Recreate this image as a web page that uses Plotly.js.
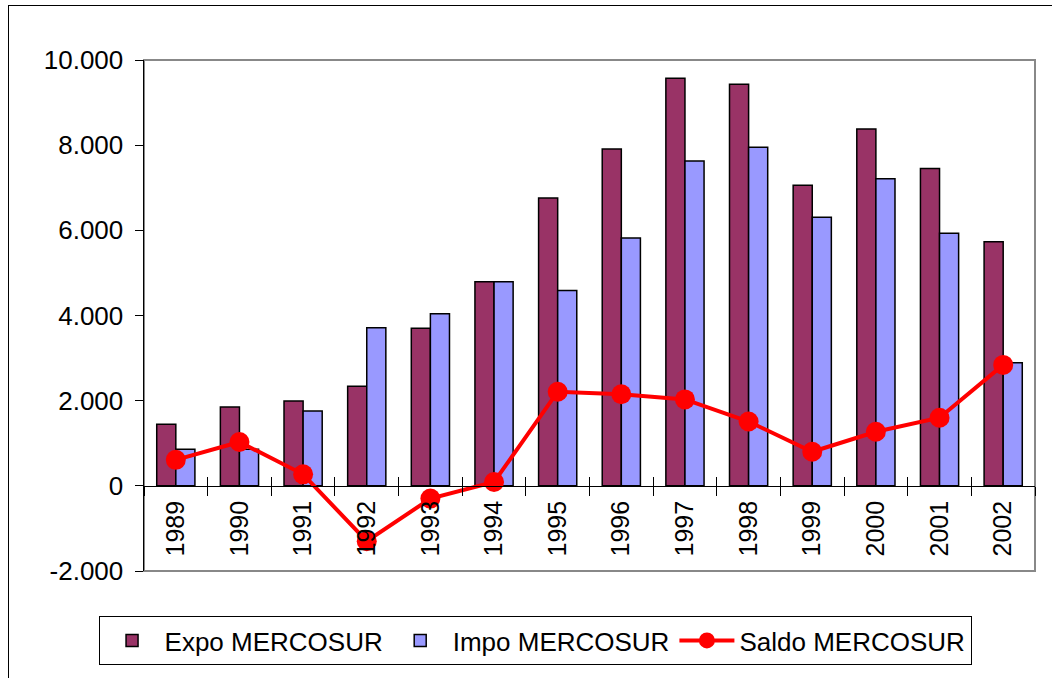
<!DOCTYPE html>
<html>
<head>
<meta charset="utf-8">
<script src="https://cdn.plot.ly/plotly-3.0.1.min.js"></script>
<style>
html,body{margin:0;padding:0;background:#fff;overflow:hidden;}
#chart{position:absolute;left:0;top:0;width:1052px;height:678px;}
#frame{position:absolute;left:8px;top:5px;width:1100px;height:720px;border:1px solid #000;pointer-events:none;}
</style>
</head>
<body>
<div id="chart"></div>
<div id="frame"></div>
<script>
const years = ['1989','1990','1991','1992','1993','1994','1995','1996','1997','1998','1999','2000','2001','2002'];
const expo  = [1445, 1850, 1990, 2340, 3700, 4790, 6760, 7910, 9570, 9430, 7060, 8380, 7450, 5730];
const impo  = [860, 860, 1760, 3710, 4040, 4790, 4590, 5820, 7630, 7950, 6310, 7210, 5930, 2890];
const saldo = [610, 1030, 270, -1300, -300, 90, 2210, 2150, 2030, 1510, 800, 1270, 1600, 2840];
const yTickVals = [-2000, 0, 2000, 4000, 6000, 8000, 10000];
const yTickText = ['-2.000', '0', '2.000', '4.000', '6.000', '8.000', '10.000'];
const seriesNames = ['Expo MERCOSUR', 'Impo MERCOSUR', 'Saldo MERCOSUR'];

const FONT = 'Arial, "Liberation Sans", sans-serif';
const yMin = -2000, yMax = 10000;
const zeroPos = (0 - yMin) / (yMax - yMin);
const catRange = [-0.5, years.length - 0.5];

const traces = [
  {type:'bar', name:seriesNames[0], x:years, y:expo, xaxis:'x', yaxis:'y',
   marker:{color:'#993366', line:{color:'#000', width:1.5}}},
  {type:'bar', name:seriesNames[1], x:years, y:impo, xaxis:'x', yaxis:'y',
   marker:{color:'#9999FF', line:{color:'#000', width:1.5}}},
  {type:'scatter', mode:'lines+markers', name:seriesNames[2], x:years, y:saldo, xaxis:'x2', yaxis:'y',
   line:{color:'#FF0000', width:4}, marker:{color:'#FF0000', size:20}, cliponaxis:false}
];

const layout = {
  width:1052, height:678,
  margin:{l:144, r:17, t:60, b:107},
  paper_bgcolor:'rgba(0,0,0,0)', plot_bgcolor:'#fff',
  font:{family:FONT, size:25, color:'#000'},
  barmode:'group', bargap:0.4, bargroupgap:0,
  showlegend:true,
  legend:{orientation:'h', xref:'container', yref:'container', x:0.5086, y:0.0553,
          xanchor:'center', yanchor:'middle', bordercolor:'#000', borderwidth:1, bgcolor:'#fff',
          font:{family:FONT, size:26, color:'#000'}, itemwidth:55,
          traceorder:'normal'},
  xaxis:{type:'category', range:catRange, anchor:'free', position:zeroPos, showline:true, linecolor:'#000', linewidth:1,
         ticks:'outside', ticklen:9, tickcolor:'#000', tickwidth:1, tickson:'boundaries',
         tickangle:-90, tickfont:{family:FONT, size:25, color:'#000'}, showgrid:false, zeroline:false,
         ticklabelstandoff:4},
  xaxis2:{type:'category', range:catRange, overlaying:'x', anchor:'free', position:zeroPos, showline:false,
          ticks:'inside', ticklen:9, tickcolor:'#000', tickwidth:1, tickson:'boundaries',
          showticklabels:false, showgrid:false, zeroline:false},
  yaxis:{range:[yMin, yMax], tickmode:'array', tickvals:yTickVals, ticktext:yTickText,
         ticks:'outside', ticklen:8, tickcolor:'#000', showline:true, linecolor:'#000', linewidth:1.5,
         showgrid:false, zeroline:false, tickfont:{family:FONT, size:26, color:'#000'},
         ticklabelstandoff:6},
  shapes:[{type:'rect', xref:'paper', yref:'paper', x0:0, x1:1, y0:0, y1:1,
           line:{color:'#888', width:2}, layer:'below'}]
};

Plotly.newPlot('chart', traces, layout, {displayModeBar:false, staticPlot:true});
</script>
</body>
</html>
